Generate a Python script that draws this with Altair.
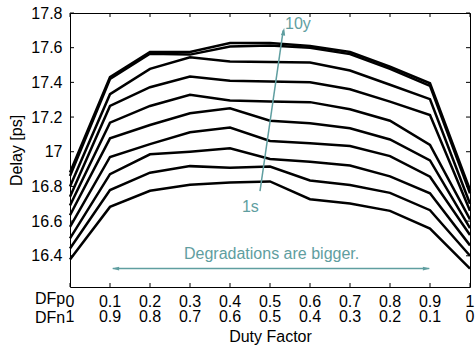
import altair as alt
import pandas as pd

# ---- data ----
duty_factor = [0.0, 0.1, 0.2, 0.3, 0.4, 0.5, 0.6, 0.7, 0.8, 0.9, 1.0]
dfp_labels = ["0", "0.1", "0.2", "0.3", "0.4", "0.5", "0.6", "0.7", "0.8", "0.9", "1"]
dfn_labels = ["1", "0.9", "0.8", "0.7", "0.6", "0.5", "0.4", "0.3", "0.2", "0.1", "0"]
y_ticks = [16.4, 16.6, 16.8, 17.0, 17.2, 17.4, 17.6, 17.8]

series_names = ["s01", "s02", "s03", "s04", "s05", "s06", "s07", "s08", "s09", "s10"]
s01 = [16.378, 16.682, 16.775, 16.810, 16.823, 16.829, 16.726, 16.702, 16.659, 16.557, 16.326]
s02 = [16.442, 16.779, 16.879, 16.917, 16.908, 16.915, 16.834, 16.808, 16.763, 16.663, 16.400]
s03 = [16.500, 16.871, 16.985, 17.000, 17.020, 16.958, 16.942, 16.920, 16.858, 16.760, 16.460]
s04 = [16.567, 16.970, 17.044, 17.112, 17.139, 17.062, 17.049, 17.033, 16.975, 16.856, 16.520]
s05 = [16.634, 17.077, 17.154, 17.222, 17.251, 17.179, 17.164, 17.135, 17.071, 16.950, 16.560]
s06 = [16.690, 17.168, 17.264, 17.328, 17.295, 17.290, 17.286, 17.245, 17.179, 17.039, 16.610]
s07 = [16.740, 17.264, 17.372, 17.434, 17.409, 17.405, 17.400, 17.360, 17.289, 17.212, 16.660]
s08 = [16.800, 17.332, 17.478, 17.545, 17.520, 17.517, 17.515, 17.468, 17.386, 17.303, 16.700]
s09 = [16.860, 17.420, 17.565, 17.560, 17.607, 17.613, 17.600, 17.563, 17.478, 17.380, 16.760]
s10 = [16.880, 17.430, 17.575, 17.575, 17.627, 17.627, 17.610, 17.575, 17.490, 17.395, 16.780]
all_series = [s01, s02, s03, s04, s05, s06, s07, s08, s09, s10]

# annotations (data coordinates)
age_arrow_x = [0.475, 0.533]
age_arrow_y = [16.773, 17.700]
age_head = (0.534, 17.693)
age_labels = ["1s", "10y"]
age_label_x = [0.451, 0.5375]
age_label_y = [16.653, 17.707]
deg_arrow_x = [0.107, 0.898]
deg_arrow_y = 16.326
deg_head_x = [0.114, 0.891]
deg_text = "Degradations are bigger."
deg_text_x = 0.504
deg_text_y = 16.380

TEAL = "#5f9ea0"
FONT = "Liberation Sans"
FS = 16

rows = []
for name, vals in zip(series_names, all_series):
    for xv, yv in zip(duty_factor, vals):
        rows.append({"series": name, "df": xv, "delay": yv})
lines_df = pd.DataFrame(rows)

xs = alt.Scale(domain=[0, 1], nice=False, zero=False)
ys = alt.Scale(domain=[16.22, 17.8], nice=False, zero=False)

x_axis = alt.Axis(labels=False, ticks=False, domain=False, grid=False,
                  title="Duty Factor", titleFont=FONT, titleFontSize=FS,
                  titleFontWeight="normal", titleColor="black",
                  titleX=200, titleY=54, titleBaseline="alphabetic",
                  titleAlign="center")
y_axis = alt.Axis(values=y_ticks, format="~g", ticks=False, domain=False, grid=False,
                  labelFont=FONT, labelFontSize=FS, labelColor="black",
                  labelPadding=8, title="Delay [ps]", titleFont=FONT,
                  titleFontSize=FS, titleFontWeight="normal", titleColor="black",
                  titleAngle=-90, titleX=-48.5, titleY=137,
                  titleAlign="center", titleBaseline="alphabetic")


def X(f):
    return alt.X(f, type="quantitative", scale=xs, axis=x_axis)


def Y(f):
    return alt.Y(f, type="quantitative", scale=ys, axis=y_axis)


lines = alt.Chart(lines_df).mark_line(color="black", strokeWidth=2.5).encode(
    x=X("df"), y=Y("delay"), detail="series:N", order="df:Q"
)

ytick_df = pd.DataFrame({"v": y_ticks})
xtick_df = pd.DataFrame({"v": duty_factor})
lt = alt.Chart(ytick_df).mark_rule(color="black", strokeWidth=1).encode(
    y=Y("v"), x=alt.value(0), x2=alt.value(4))
rt = alt.Chart(ytick_df).mark_rule(color="black", strokeWidth=1).encode(
    y=Y("v"), x=alt.value(396), x2=alt.value(400))
bt = alt.Chart(xtick_df).mark_rule(color="black", strokeWidth=1).encode(
    x=X("v"), y=alt.value(270), y2=alt.value(274))
tt = alt.Chart(xtick_df).mark_rule(color="black", strokeWidth=1).encode(
    x=X("v"), y=alt.value(0), y2=alt.value(4))

xlab_df = pd.DataFrame({"v": duty_factor, "p": dfp_labels, "n": dfn_labels})
xlab_p = alt.Chart(xlab_df).mark_text(font=FONT, fontSize=FS, color="black",
                                      baseline="alphabetic", align="center").encode(
    x=X("v"), y=alt.value(274 + 20), text="p:N")
xlab_n = alt.Chart(xlab_df).mark_text(font=FONT, fontSize=FS, color="black",
                                      baseline="alphabetic", align="center").encode(
    x=X("v"), y=alt.value(274 + 35), text="n:N")
side_p = alt.Chart(pd.DataFrame({"t": ["DFp"]})).mark_text(
    font=FONT, fontSize=FS, color="black", baseline="alphabetic", align="left").encode(
    x=alt.value(-35), y=alt.value(274 + 17), text="t:N")
side_n = alt.Chart(pd.DataFrame({"t": ["DFn"]})).mark_text(
    font=FONT, fontSize=FS, color="black", baseline="alphabetic", align="left").encode(
    x=alt.value(-35), y=alt.value(274 + 35.5), text="t:N")

arrow_df = pd.DataFrame({"x": [age_arrow_x[0]], "x2": [age_arrow_x[1]],
                         "y": [age_arrow_y[0]], "y2": [age_arrow_y[1]]})
age_rule = alt.Chart(arrow_df).mark_rule(color=TEAL, strokeWidth=1.5).encode(
    x=X("x"), x2="x2", y=Y("y"), y2="y2")
age_head_c = alt.Chart(pd.DataFrame({"x": [age_head[0]], "y": [age_head[1]]})).mark_point(
    shape="M0,-1L-0.55,1L0.55,1Z", filled=True, color=TEAL, opacity=1, size=60, angle=8.3,
    strokeWidth=0).encode(x=X("x"), y=Y("y"))

t1 = alt.Chart(pd.DataFrame({"t": [age_labels[0]], "x": [age_label_x[0]], "y": [age_label_y[0]]})).mark_text(
    font=FONT, fontSize=FS, color=TEAL, baseline="alphabetic", align="center").encode(
    x=X("x"), y=Y("y"), text="t:N")
t2 = alt.Chart(pd.DataFrame({"t": [age_labels[1]], "x": [age_label_x[1]], "y": [age_label_y[1]]})).mark_text(
    font=FONT, fontSize=FS, color=TEAL, baseline="alphabetic", align="left").encode(
    x=X("x"), y=Y("y"), text="t:N")

deg_df = pd.DataFrame({"x": [deg_arrow_x[0]], "x2": [deg_arrow_x[1]], "y": [deg_arrow_y]})
deg_rule = alt.Chart(deg_df).mark_rule(color=TEAL, strokeWidth=1.5).encode(
    x=X("x"), x2="x2", y=Y("y"))
deg_l = alt.Chart(pd.DataFrame({"x": [deg_head_x[0]], "y": [deg_arrow_y]})).mark_point(
    shape="M-1,0L1,-0.55L1,0.55Z", filled=True, color=TEAL, opacity=1, size=50,
    strokeWidth=0).encode(x=X("x"), y=Y("y"))
deg_r = alt.Chart(pd.DataFrame({"x": [deg_head_x[1]], "y": [deg_arrow_y]})).mark_point(
    shape="M1,0L-1,-0.55L-1,0.55Z", filled=True, color=TEAL, opacity=1, size=50,
    strokeWidth=0).encode(x=X("x"), y=Y("y"))
deg_t = alt.Chart(pd.DataFrame({"t": [deg_text], "x": [deg_text_x], "y": [deg_text_y]})).mark_text(
    font=FONT, fontSize=FS, color=TEAL, baseline="alphabetic", align="center").encode(
    x=X("x"), y=Y("y"), text="t:N")

chart = alt.layer(
    lines, lt, rt, bt, tt, xlab_p, xlab_n, side_p, side_n,
    age_rule, age_head_c, t1, t2, deg_rule, deg_l, deg_r, deg_t
).properties(
    width=400, height=274,
    autosize=alt.AutoSizeParams(type="none"),
    padding={"left": 70, "top": 13, "right": 6, "bottom": 58},
    background="white",
).configure_view(stroke="black", strokeWidth=1)

chart.save("out.html", embed_options={"renderer": "svg", "actions": False})
